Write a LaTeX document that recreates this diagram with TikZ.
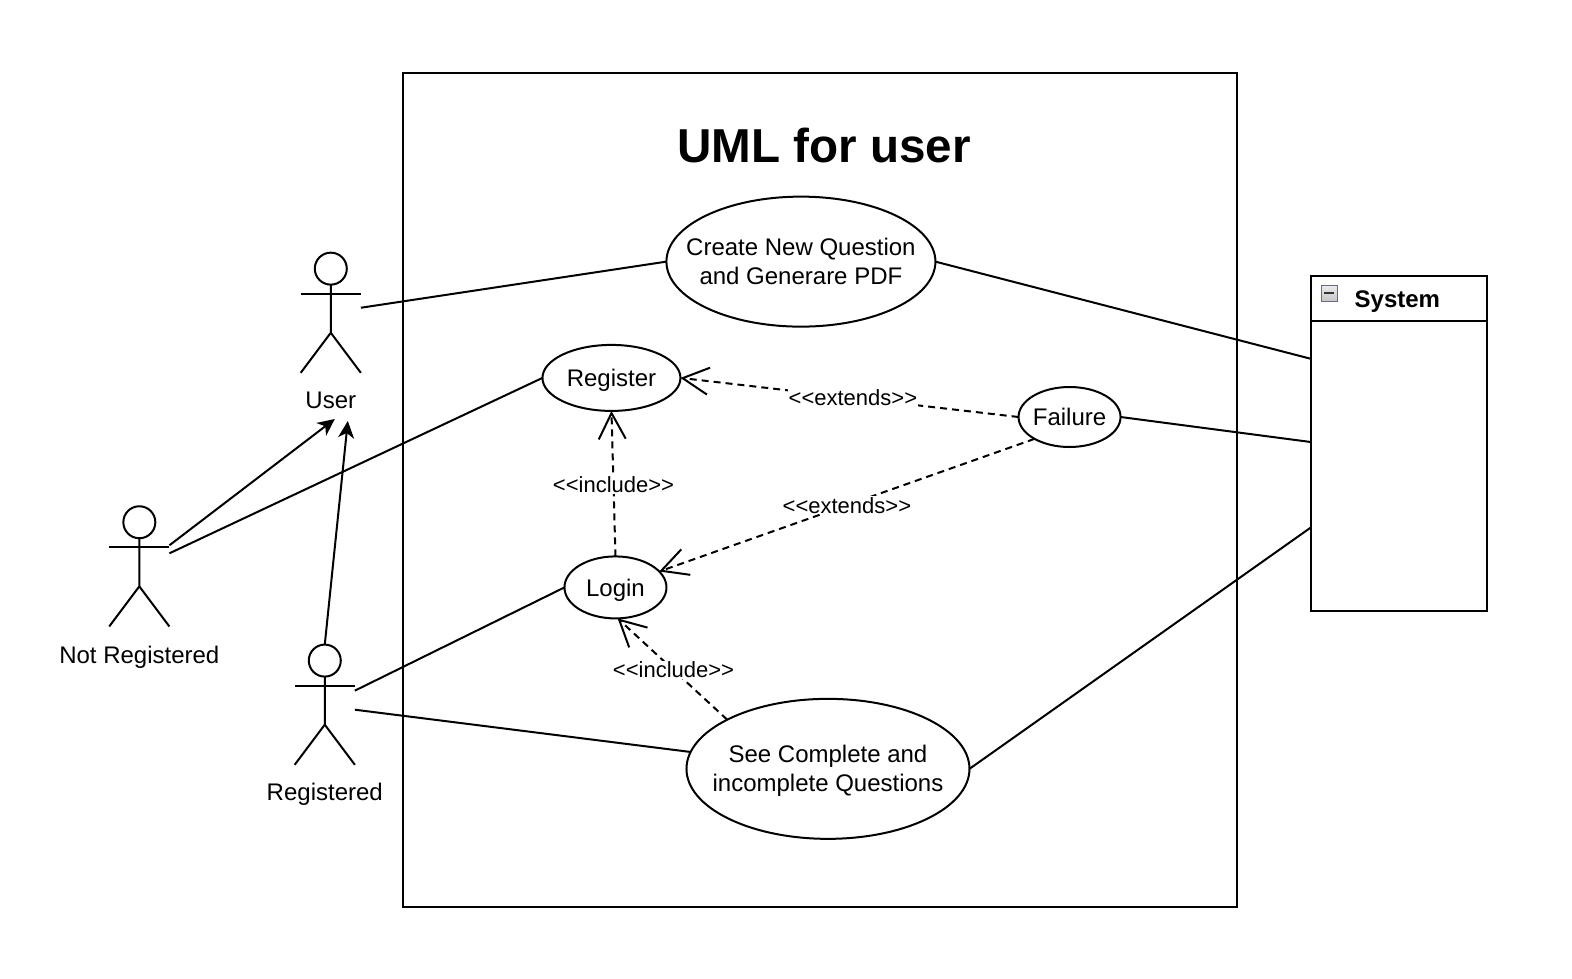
\documentclass[tikz,border=0pt]{standalone}
\usepackage{fontspec}
\setmainfont{Liberation Sans}
\usepackage{tikz}
\usetikzlibrary{shapes.geometric, arrows.meta}
\tikzset{
    usecase/.style={ellipse, draw, line width=2pt, inner xsep=-25pt, inner ysep=0pt, outer sep=0pt, text centered, align=center, font=\fontsize{24}{29}\selectfont},
    assoc/.style={line width=2pt},
    generalize/.style={line width=2pt, -{Stealth[length=17pt,width=16pt,inset=5pt]}},
    dependency/.style={line width=2pt, dashed, dash pattern=on 7pt off 5pt, -{Straight Barb[length=26pt,width=27pt,line width=2pt]}},
    stereotype/.style={fill=white, inner sep=1pt, font=\fontsize{22}{26}\selectfont},
    actorlabel/.style={inner sep=0pt, text depth=0pt, font=\fontsize{24}{29}\selectfont},
    head/.style={circle, draw, line width=2pt, minimum size=32pt, inner sep=0pt, outer sep=0pt}
}
% stick figure: name, x, y of the head centre
\newcommand{\actorfigure}[3]{
    \node[head] (#1_head) at (#2,#3) {};
    \draw[assoc] (#1_head.south) -- ++(0,48) coordinate (#1_hip) -- ++(-30,40);
    \draw[assoc] (#1_hip) -- ++(30,40);
    \draw[assoc] ([xshift=-30pt,yshift=-9pt]#1_head.south) -- ++(60,0);
}
\newcommand{\stereo}[1]{<\kern0pt<#1>\kern0pt>}
\begin{document}
\begin{tikzpicture}[x=1.0024pt, y=-1.0024pt]
    \useasboundingbox (0pt,0pt) rectangle (1572pt,-978pt);

    % System boundary
    \node[draw, line width=2pt, minimum width=834pt, minimum height=834pt, inner sep=0pt] (boundary) at (818,489) {};
    \node[inner sep=0pt, font=\fontsize{47.6}{56}\bfseries\selectfont] (title) at (822,145.5) {UML for user};

    % Use cases
    \node[usecase, minimum width=269pt, minimum height=130pt] (create_case) at (799,261) {Create New Question\\and Generare PDF};
    \node[usecase, minimum width=138pt, minimum height=66pt, text depth=0pt] (register_case) at (610,377) {Register};
    \node[usecase, minimum width=102pt, minimum height=60pt] (failure_case) at (1067,416) {Failure};
    \node[usecase, minimum width=102pt, minimum height=62pt, text depth=0pt] (login_case) at (614,586) {Login};
    \node[usecase, minimum width=283pt, minimum height=140pt] (see_case) at (826,767) {\rule{0pt}{21.5pt}See Complete and\\incomplete Questions};

    % Actors
    \actorfigure{user}{330}{268}
    \node[actorlabel] (user_label) at (330,399) {User};
    \actorfigure{notreg}{139}{521}
    \node[actorlabel] (notreg_label) at (139,653) {Not Registered};
    \actorfigure{reg}{324}{659}
    \node[actorlabel] (reg_label) at (324,790) {Registered};

    % System box on the right
    \node[draw, line width=2pt, minimum width=175.5pt, minimum height=335pt, inner sep=0pt] (system_box) at (1395.5,442) {};
    \node[draw, line width=2pt, minimum width=175.5pt, minimum height=45pt, inner sep=0pt] (system_head) at (1395.5,297.5) {};
    \node[inner sep=0pt, text depth=0pt, font=\fontsize{24}{29}\bfseries\selectfont] (system_label) at (1394,298) {System};
    \node[draw=gray!80!blue, line width=1pt, top color=gray!15, bottom color=gray!45, minimum size=16pt, inner sep=0pt] (system_icon) at (1326,292.5) {};
    \node[fill=black!80, minimum width=10pt, minimum height=2pt, inner sep=0pt] (system_minus) at (system_icon) {};

    % Connector ends
    \coordinate (user_hand) at (360,307);
    \coordinate (user_foot) at (334,418);
    \coordinate (user_side) at (347,420);
    \coordinate (notreg_up) at (169,544);
    \coordinate (notreg_low) at (169,552);
    \coordinate (reg_up) at (354,689);
    \coordinate (reg_low) at (354,708);
    \coordinate (sys_a) at (1308,358);
    \coordinate (sys_b) at (1308,441);
    \coordinate (sys_c) at (1308,526);

    % Associations
    \draw[assoc] (user_hand) -- (create_case.west);
    \draw[assoc] (notreg_low) -- (register_case.west);
    \draw[assoc] (reg_up) -- (login_case.west);
    \draw[assoc] (reg_low) -- (see_case.173);
    \draw[assoc] (create_case.east) -- (sys_a);
    \draw[assoc] (failure_case.east) -- (sys_b);
    \draw[assoc] (see_case.east) -- (sys_c);

    % Generalization
    \draw[generalize] (notreg_up) -- (user_foot);
    \draw[generalize] (reg_head.north) -- (user_side);

    % Dependencies
    \draw[dependency] (failure_case.west) -- (register_case.east) node[stereotype, pos=0.49] (extends_a) {\stereo{extends}};
    \draw[dependency] (failure_case.212) -- (login_case.20) node[stereotype, pos=0.5] (extends_b) {\stereo{extends}};
    \draw[dependency] (login_case.north) -- (register_case.south) node[stereotype, pos=0.49] (include_a) {\stereo{include}};
    \draw[dependency] (see_case.154) -- (login_case.-86) node[stereotype, pos=0.49] (include_b) {\stereo{include}};
\end{tikzpicture}
\end{document}
